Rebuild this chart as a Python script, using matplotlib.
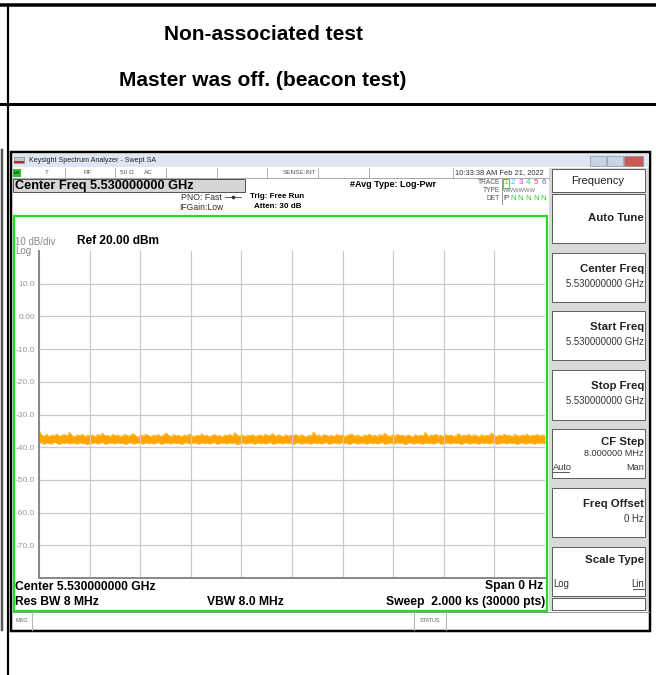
import numpy as np
import matplotlib.pyplot as plt
from matplotlib.patches import Rectangle

plt.rcParams['font.family'] = ['Liberation Sans', 'DejaVu Sans']

# Textos de la tabla
header_lines = ["Non-associated test", "Master was off. (beacon test)"]

# Escala vertical (dBm) y barrido
y_top = 20.0
y_bottom = -80.0
y_tick_values = [10, 0, -10, -20, -30, -40, -50, -60, -70]
y_tick_labels = ["10.0", "0.00", "-10.0", "-20.0", "-30.0", "-40.0", "-50.0", "-60.0", "-70.0"]
sweep_time_s = 2000.0
n_xdiv = 10

# Traza: envolvente superior e inferior (dBm)
trace_upper = [
    -34.7, -36.3, -36.6, -36.0, -36.8, -36.2, -36.5, -35.9, -36.7, -36.3,
    -36.1, -36.6, -35.4, -36.4, -36.8, -36.2, -36.5, -36.0, -36.7, -36.3,
    -36.6, -36.2, -36.9, -36.1, -36.4, -35.7, -36.6, -36.3, -36.8, -36.0,
    -36.5, -36.2, -36.7, -36.4, -36.1, -36.6, -36.3, -35.8, -36.5, -36.9,
    -36.2, -36.6, -36.0, -36.4, -36.7, -36.3, -36.5, -36.1, -36.8, -36.2,
    -35.6, -36.4, -36.7, -36.1, -36.5, -36.3, -36.8, -36.2, -36.6, -36.0,
    -36.4, -36.7, -36.3, -36.5, -35.9, -36.6, -36.2, -36.8, -36.4, -36.1,
    -36.6, -36.3, -36.9, -36.2, -36.5, -36.0, -36.7, -35.5, -36.4, -36.6,
    -36.2, -36.8, -36.3, -36.5, -36.1, -36.7, -36.4, -36.2, -36.6, -36.0,
    -36.5, -36.3, -35.8, -36.7, -36.2, -36.4, -36.8, -36.1, -36.6, -36.3,
    -36.5, -36.0, -36.7, -36.2, -36.4, -36.9, -36.3, -36.6, -35.3, -36.5,
    -36.2, -36.7, -36.1, -36.4, -36.6, -36.3, -36.8, -36.0, -36.5, -36.2,
    -36.7, -36.4, -36.1, -35.9, -36.6, -36.3, -36.5, -36.8, -36.2, -36.4,
    -36.0, -36.6, -36.3, -36.7, -36.1, -36.5, -35.7, -36.4, -36.8, -36.2,
    -36.6, -36.0, -36.5, -36.3, -36.7, -36.2, -36.4, -36.9, -36.1, -36.6,
    -36.3, -36.5, -35.4, -36.7, -36.2, -36.4, -36.0, -36.6, -36.3, -36.8,
    -36.1, -36.5, -36.2, -36.7, -36.4, -35.8, -36.6, -36.3, -36.5, -36.0,
    -36.7, -36.2, -36.4, -36.8, -36.1, -36.6, -36.3, -36.5, -35.6, -36.4,
    -36.7, -36.2, -36.6, -36.0, -36.5, -36.3, -36.8, -36.1, -36.4, -36.6,
    -36.2, -36.5, -35.9, -36.7, -36.3, -36.4, -36.1, -36.6, -36.2, -36.5,
]
trace_lower = [
    -38.8, -38.6, -39.1, -38.7, -38.9, -39.0, -38.5, -38.8, -39.2, -38.7,
    -38.9, -38.6, -39.0, -38.8, -38.7, -39.1, -38.6, -38.9, -38.8, -39.3,
    -38.7, -38.9, -38.6, -39.0, -38.8, -38.5, -39.1, -38.9, -38.7, -38.8,
    -39.0, -38.6, -38.9, -38.7, -39.2, -38.8, -38.6, -39.0, -38.9, -38.7,
    -38.8, -39.1, -38.6, -38.9, -38.7, -39.0, -38.8, -38.5, -39.1, -38.9,
    -38.7, -38.8, -39.0, -38.6, -38.9, -38.7, -39.2, -38.8, -38.6, -39.0,
    -38.9, -38.7, -38.8, -39.1, -38.6, -38.9, -38.7, -39.0, -38.8, -38.5,
    -39.1, -38.9, -38.7, -38.8, -39.0, -38.6, -38.9, -38.7, -39.3, -38.8,
    -38.6, -39.0, -38.9, -38.7, -38.8, -39.1, -38.6, -38.9, -38.7, -39.0,
    -38.8, -38.5, -39.1, -38.9, -38.7, -38.8, -39.0, -38.6, -38.9, -38.7,
    -39.2, -38.8, -38.6, -39.0, -38.9, -38.7, -38.8, -39.1, -38.6, -38.9,
    -38.7, -39.0, -38.8, -38.5, -39.1, -38.9, -38.7, -38.8, -39.0, -38.6,
    -38.9, -38.7, -39.2, -38.8, -38.6, -39.0, -38.9, -38.7, -38.8, -39.1,
    -38.6, -38.9, -38.7, -39.0, -38.8, -38.5, -39.1, -38.9, -38.7, -38.8,
    -39.0, -38.6, -38.9, -38.7, -39.3, -38.8, -38.6, -39.0, -38.9, -38.7,
    -38.8, -39.1, -38.6, -38.9, -38.7, -39.0, -38.8, -38.5, -39.1, -38.9,
    -38.7, -38.8, -39.0, -38.6, -38.9, -38.7, -39.2, -38.8, -38.6, -39.0,
    -38.9, -38.7, -38.8, -39.1, -38.6, -38.9, -38.7, -39.0, -38.8, -38.5,
    -39.1, -38.9, -38.7, -38.8, -39.0, -38.6, -38.9, -38.7, -39.2, -38.8,
    -38.6, -39.0, -38.9, -38.7, -38.8, -39.1, -38.6, -38.9, -38.7, -39.0,
]

# Teclas laterales
softkey_titles = ["Auto Tune", "Center Freq", "Start Freq", "Stop Freq",
                  "CF Step", "Freq Offset", "Scale Type"]
softkey_values = ["", "5.530000000 GHz", "5.530000000 GHz", "5.530000000 GHz",
                  "8.000000 MHz", "0 Hz", ""]
softkey_boxes = [(194, 243), (253, 302), (311, 360), (370, 420),
                 (429, 478), (488, 537), (547, 596)]

W, H = 656, 675
fig = plt.figure(figsize=(W / 100, H / 100), dpi=100)
bg = fig.add_axes([0, 0, 1, 1])
bg.set_xlim(0, W)
bg.set_ylim(H, 0)
bg.axis('off')


def px(v):
    # pixeles -> puntos
    return v * 0.72


def txt(x, y, s, size=6, bold=False, color='black', ha='left', z=3):
    bg.text(x, y, s, fontsize=size, fontweight='bold' if bold else 'normal',
            color=color, ha=ha, va='center', zorder=z)


def box(x0, y0, x1, y1, fc='none', ec='none', lw=1.0, z=1):
    bg.add_patch(Rectangle((x0, y0), x1 - x0, y1 - y0, facecolor=fc,
                           edgecolor=ec, linewidth=px(lw), zorder=z))


# --- tabla ---
bg.plot([0, W], [5, 5], color='black', lw=px(3.5))
bg.plot([0, W], [104, 104], color='black', lw=px(3))
bg.plot([8, 8], [5, H], color='black', lw=px(2.2))
bg.plot([1.5, 1.5], [150, 630], color='#555555', lw=px(2.5))
txt(263, 35, header_lines[0], size=15, bold=True, ha='center')
txt(263, 80, header_lines[1], size=15, bold=True, ha='center')

# --- ventana del analizador ---
box(11, 152, 650, 631, fc='white', ec='black', lw=2.5, z=1)
box(12.5, 153.5, 648.5, 167, fc='#dde6f1', z=2)
box(14, 157, 24, 163, fc='#c8c8c8', ec='#777777', lw=0.6, z=3)
box(14, 161, 24, 163, fc='#d02020', z=3)
txt(29, 160, "Keysight Spectrum Analyzer - Swept SA", size=5.1, color='#202020')
for bx0, bx1, col in [(590, 606, '#c7d4e4'), (607, 623, '#c7d4e4'), (624, 643, '#c85a50')]:
    box(bx0, 156, bx1, 166, fc=col, ec='#7d8ea6', lw=0.6, z=3)

# fila de estado
bg.plot([12, 549], [177.5, 177.5], color='#aaaaaa', lw=px(1), zorder=3)
for sx in [65, 115, 166, 217, 267, 318, 369, 453]:
    bg.plot([sx, sx], [168, 177], color='#b5b5b5', lw=px(1), zorder=3)
box(13, 168.5, 21, 176.5, fc='#30c030', z=3)
txt(17, 172.5, "LXI", size=3, ha='center', z=4)
txt(47, 172.5, "T", size=4.6, color='#555555', ha='center')
txt(88, 172.5, "RF", size=4.6, color='#555555', ha='center')
txt(127, 172.5, "50 Ω", size=4.6, color='#555555', ha='center')
txt(148, 172.5, "AC", size=4.6, color='#555555', ha='center')
txt(316, 172.5, "SENSE:INT", size=4.6, color='#555555', ha='right')
txt(455, 172.5, "10:33:38 AM Feb 21, 2022", size=5.4, color='#333333')

# cabecera de medida
box(13, 179, 245, 192, fc='#d6d6d6', ec='#555555', lw=1, z=3)
txt(15, 185.5, "Center Freq 5.530000000 GHz", size=9.2, bold=True, z=4)
txt(222, 197, "PNO: Fast", size=6.3, color='#333333', ha='right')
bg.plot([225, 241], [197, 197], color='#333333', lw=px(0.8), zorder=3)
bg.plot([233], [197], marker='o', ms=1.6, color='#333333', zorder=3)
txt(223, 207, "IFGain:Low", size=6.2, color='#333333', ha='right')
txt(250, 196, "Trig: Free Run", size=5.8, bold=True)
txt(254, 207, "Atten: 30 dB", size=5.8, bold=True)
txt(350, 184.5, "#Avg Type: Log-Pwr", size=6.5, bold=True)
txt(500, 183, "TRACE", size=4.8, color='#555555', ha='right')
txt(500, 191, "TYPE", size=4.8, color='#555555', ha='right')
txt(500, 199, "DET", size=4.8, color='#555555', ha='right')
bg.plot([502, 502], [179, 204], color='#999999', lw=px(1), zorder=3)
trace_colors = ['#e0a000', '#20c8ff', '#ff20ff', '#30d060', '#ff3070', '#8050ff']
for i, c in enumerate(trace_colors):
    txt(505.5 + i * 7.6, 183, str(i + 1), size=5.8, color=c, ha='center')
box(502.5, 178.5, 509, 187.5, ec='#30c030', lw=0.8, z=3)
txt(503, 191, "WWWWWW", size=4.2, color='#777777')
txt(505.5, 199, "P", size=5.6, color='#333333', ha='center')
for i in range(5):
    txt(513 + i * 7.6, 199, "N", size=5.6, color='#20d020', ha='center')

# marco verde
box(13.5, 216, 547, 611, ec='#22dd22', lw=2.2, z=5)
txt(15, 242, "10 dB/div", size=7, color='#888888')
txt(15, 250.5, "Log", size=7, color='#888888')
txt(77, 241, "Ref 20.00 dBm", size=8.6, bold=True)
txt(15, 587, "Center 5.530000000 GHz", size=8.7, bold=True)
txt(15, 602, "Res BW 8 MHz", size=8.7, bold=True)
txt(207, 602, "VBW 8.0 MHz", size=8.7, bold=True)
txt(543, 586, "Span 0 Hz", size=8.7, bold=True, ha='right')
txt(545, 602, "Sweep  2.000 ks (30000 pts)", size=8.7, bold=True, ha='right')

# barra MSG / STATUS
bg.plot([12, 649], [612, 612], color='#999999', lw=px(1), zorder=3)
for sx in [32, 414, 446]:
    bg.plot([sx, sx], [612, 630], color='#b5b5b5', lw=px(1), zorder=3)
txt(15, 621, "MSG", size=4, color='#666666')
txt(430, 621, "STATUS", size=4, color='#666666', ha='center')

# panel de teclas
box(549, 168, 648, 611, fc='#d9d9d9', z=2)
box(552, 169, 645, 192, fc='white', ec='#606060', lw=1, z=3)
txt(598, 180.5, "Frequency", size=8, color='#222222', ha='center', z=4)
for (y0, y1), t, v in zip(softkey_boxes, softkey_titles, softkey_values):
    box(552, y0, 645, y1, fc='white', ec='#606060', lw=1, z=3)
    if t == "CF Step":
        txt(644, y0 + 13, t, size=8.2, bold=True, color='#222222', ha='right', z=4)
        txt(644, y0 + 25, v, size=6.6, color='#333333', ha='right', z=4)
    elif v:
        txt(644, y0 + 16, t, size=8.2, bold=True, color='#222222', ha='right', z=4)
        txt(644, y0 + 31, v, size=6.9, color='#333333', ha='right', z=4)
    else:
        ty = y0 + 24 if t == "Auto Tune" else y0 + 13
        txt(644, ty, t, size=8.2, bold=True, color='#222222', ha='right', z=4)
txt(553, 467, "Auto", size=6.6, color='#333333', z=4)
bg.plot([553, 569], [471.5, 471.5], color='#333333', lw=px(0.8), zorder=4)
txt(644, 467, "Man", size=6.6, color='#333333', ha='right', z=4)
txt(553, 584, "Log", size=6.9, color='#333333', z=4)
txt(644, 584, "Lin", size=6.9, color='#333333', ha='right', z=4)
bg.plot([633, 644], [589, 589], color='#333333', lw=px(0.8), zorder=4)
box(552, 598, 645, 610, fc='white', ec='#606060', lw=1, z=3)

# --- area de la traza ---
x0p, x1p, y0p, y1p = 39, 545, 251, 578
ax = fig.add_axes([x0p / W, 1 - y1p / H, (x1p - x0p) / W, (y1p - y0p) / H])
ax.set_zorder(4)
ax.set_facecolor('white')
ax.set_xlim(0, sweep_time_s)
ax.set_ylim(y_bottom, y_top)
ax.set_xticks(np.linspace(0, sweep_time_s, n_xdiv + 1))
ax.set_xticklabels([])
ax.set_yticks(y_tick_values)
ax.set_yticklabels(y_tick_labels)
ax.tick_params(axis='both', length=0)
ax.tick_params(axis='y', pad=3, labelsize=6, labelcolor='#999999')
ax.grid(True, color='#c8c8c8', lw=px(1.2))
for s in ['top', 'right']:
    ax.spines[s].set_visible(False)
for s in ['left', 'bottom']:
    ax.spines[s].set_color('#8a8a8a')
    ax.spines[s].set_linewidth(px(2))

xt = np.linspace(0, sweep_time_s, len(trace_upper))
ax.fill_between(xt, trace_lower, trace_upper, color='#ffa500', lw=0)
ax.plot(xt, trace_upper, color='#ffa500', lw=0.5)
ax.plot(xt, trace_lower, color='#ffb733', lw=0.5)

fig.savefig('out.png', dpi=100)
